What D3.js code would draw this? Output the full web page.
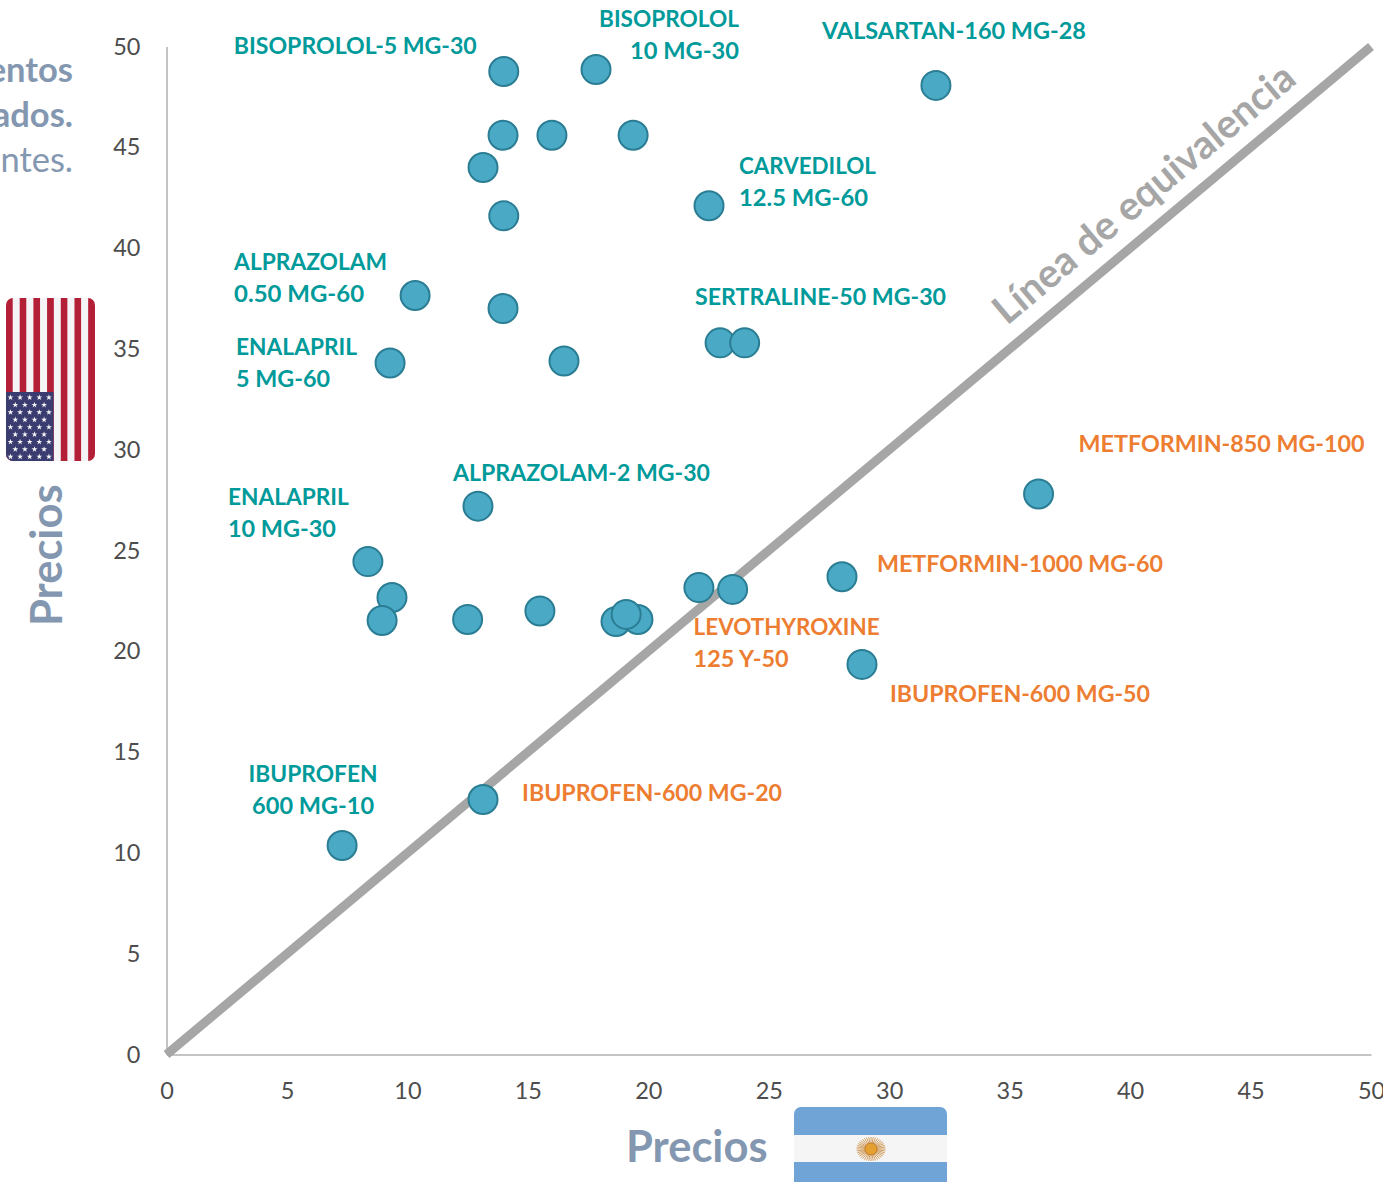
<!DOCTYPE html>
<html>
<head>
<meta charset="utf-8">
<script src="https://cdn.jsdelivr.net/npm/d3@7"></script>
<style>
html,body{margin:0;padding:0;background:#fff;overflow:hidden}
svg{display:block;font-family:Lato,"Open Sans",sans-serif}
</style>
</head>
<body>
<svg id="chart" width="1383" height="1182"></svg>
<script>
// values: precio Argentina (x), precio EE.UU. (y)
var precioArgentina = [14.0,17.83,31.94,13.97,16.0,19.37,13.14,22.52,14.0,10.32,13.97,22.98,24.0,16.5,9.28,36.2,12.93,8.36,28.04,9.36,22.1,23.5,8.95,12.5,15.5,18.66,19.57,19.08,28.87,13.14,7.29];
var precioEEUU = [48.76,48.86,48.07,45.6,45.6,45.6,44.0,42.1,41.6,37.65,37.0,35.3,35.3,34.4,34.3,27.8,27.2,24.45,23.7,22.67,23.16,23.07,21.53,21.58,22.0,21.48,21.58,21.83,19.35,12.65,10.37];
var ticks = [0,5,10,15,20,25,30,35,40,45,50];

var labelTexts = [
	["BISOPROLOL-5 MG-30"],
	["BISOPROLOL","10 MG-30"],
	["VALSARTAN-160 MG-28"],
	["CARVEDILOL","12.5 MG-60"],
	["ALPRAZOLAM","0.50 MG-60"],
	["ENALAPRIL","5 MG-60"],
	["SERTRALINE-50 MG-30"],
	["ALPRAZOLAM-2 MG-30"],
	["ENALAPRIL","10 MG-30"],
	["METFORMIN-850 MG-100"],
	["METFORMIN-1000 MG-60"],
	["LEVOTHYROXINE","125 Y-50"],
	["IBUPROFEN-600 MG-50"],
	["IBUPROFEN-600 MG-20"],
	["IBUPROFEN","600 MG-10"]
];
// which point each label belongs to
var labelPoint = [0,1,2,7,9,14,11,16,17,15,18,21,28,29,30];
var labelOrange = [false,false,false,false,false,false,false,false,false,true,true,true,true,true,false];
// pixel offset of the label from its point, and text anchor
var labelDx = [-270,143,-114,30,-181,-154,-25,-25,-140,40,35,-39,28,39,-29];
var labelDy = [-17,-42,-46,-31,-25,-8,-37,-25,-56,-42,-4,46,38,2,-63];
var labelAnchor = ["start","end","start","start","start","start","start","start","start","start","start","start","start","start","middle"];
// line widths as seen in the picture, Lato runs wider than the original font
var labelWidths = [[243],[140,109],[264],[137,129],[153,130],[121,94],[251],[257],[121,108],[286],[286],[186,95],[260],[260],[129,122]];

var titleFragments = ["entos","ados.","ntes."];
var titleBold = [true,true,false];

var svg = d3.select("#chart");
var x = d3.scaleLinear().domain([0,50]).range([166.5,1371]);
var y = d3.scaleLinear().domain([0,50]).range([1054.5,46.5]);

var TEAL = "#009a9a", ORANGE = "#ed7d31", TITLE = "#8497b0", AXIS = "#c4c4c4", TICK = "#4d4d4d";

// axes
var gx = svg.append("g").attr("transform","translate(0,"+y(0)+")")
	.call(d3.axisBottom(x).tickValues(ticks).tickSize(0).tickPadding(24));
var gy = svg.append("g").attr("transform","translate("+x(0)+",0)")
	.call(d3.axisLeft(y).tickValues(ticks).tickSize(0).tickPadding(26));
[gx,gy].forEach(function(g){
	g.select(".domain").attr("stroke",AXIS).attr("stroke-width",2);
	g.selectAll("text").attr("fill",TICK).attr("font-family","Lato").attr("font-size",23.5);
});
gx.selectAll("text").attr("y",44).attr("dy","0");

// equivalence line
svg.append("line")
	.attr("x1",x(0)).attr("y1",y(0)).attr("x2",x(50)).attr("y2",y(50))
	.attr("stroke","#a6a6a6").attr("stroke-width",9);
var lineAngle = Math.atan2(y(50)-y(0),x(50)-x(0))*180/Math.PI;
svg.append("text")
	.attr("transform","translate(1007,326) rotate("+lineAngle+")")
	.attr("font-size",40).attr("font-weight",700).attr("fill","#a6a6a6")
	.text("Línea de equivalencia");

// points
svg.append("g").selectAll("circle").data(precioArgentina).enter().append("circle")
	.attr("cx",function(d){return x(d)})
	.attr("cy",function(d,i){return y(precioEEUU[i])})
	.attr("r",14.5)
	.attr("fill","#4aa9c5").attr("stroke","#2a7d93").attr("stroke-width",2);

// labels
svg.append("g").selectAll("text").data(labelTexts).enter().append("text")
	.attr("font-size",23).attr("font-weight",700)
	.attr("fill",function(d,i){return labelOrange[i]?ORANGE:TEAL})
	.attr("text-anchor",function(d,i){return labelAnchor[i]})
	.each(function(d,i){
		var p = labelPoint[i],
			lx = x(precioArgentina[p])+labelDx[i],
			ly = y(precioEEUU[p])+labelDy[i]-0.5;
		d3.select(this).selectAll("tspan").data(d).enter().append("tspan")
			.attr("x",lx).attr("y",function(t,j){return ly+j*32})
			.attr("textLength",function(t,j){return labelWidths[i][j]})
			.attr("lengthAdjust","spacingAndGlyphs")
			.text(function(t){return t});
	});

// cut off title on the left edge
svg.append("g").selectAll("text").data(titleFragments).enter().append("text")
	.attr("x",73).attr("y",function(d,i){return 82+i*45})
	.attr("text-anchor","end").attr("font-size",34.5).attr("fill",TITLE)
	.attr("font-weight",function(d,i){return titleBold[i]?700:400})
	.text(function(d){return d});

// axis titles
svg.append("text").attr("x",626).attr("y",1162)
	.attr("font-size",43.5).attr("font-weight",700).attr("fill",TITLE).text("Precios");
svg.append("text").attr("transform","translate(62,626) rotate(-90)")
	.attr("font-size",43.5).attr("font-weight",700).attr("fill",TITLE).text("Precios");

// US flag, turned on its side
var defs = svg.append("defs");
defs.append("clipPath").attr("id","usClip").append("rect")
	.attr("x",6).attr("y",298).attr("width",89).attr("height",163).attr("rx",7);
var us = svg.append("g").attr("clip-path","url(#usClip)");
us.selectAll("rect.stripe").data(d3.range(13)).enter().append("rect")
	.attr("class","stripe")
	.attr("x",function(d){return 6+d*89/13}).attr("y",298)
	.attr("width",89/13).attr("height",163)
	.attr("fill",function(d){return d%2?"#f4f4f6":"#b41f38"});
us.append("rect").attr("x",6).attr("y",392).attr("width",47.5).attr("height",69).attr("fill","#3a3c70");
var star = d3.symbol().type(d3.symbolStar).size(11);
d3.range(9).forEach(function(r){
	var n = r%2?4:5;
	d3.range(n).forEach(function(c){
		us.append("path").attr("d",star).attr("fill","#f4f4f6")
			.attr("transform","translate("+(10.5+c*9.6+(r%2?4.8:0))+","+(397.5+r*7.4)+")");
	});
});

// Argentine flag, runs off the bottom of the page
defs.append("clipPath").attr("id","arClip").append("rect")
	.attr("x",794).attr("y",1107).attr("width",153).attr("height",90).attr("rx",7);
var ar = svg.append("g").attr("clip-path","url(#arClip)");
ar.append("rect").attr("x",794).attr("y",1107).attr("width",153).attr("height",90).attr("fill","#70a3d6");
ar.append("rect").attr("x",794).attr("y",1135).attr("width",153).attr("height",27).attr("fill","#f5f5f5");
d3.range(40).forEach(function(i){
	var a = i/40*2*Math.PI;
	ar.append("line").attr("x1",871).attr("y1",1149)
		.attr("x2",871+14.5*Math.cos(a)).attr("y2",1149+12*Math.sin(a))
		.attr("stroke","#c98a3e").attr("stroke-width",0.8);
});
ar.append("circle").attr("cx",871).attr("cy",1149).attr("r",6).attr("fill","#e5a032").attr("stroke","#b9741f").attr("stroke-width",0.8);
</script>
</body>
</html>
